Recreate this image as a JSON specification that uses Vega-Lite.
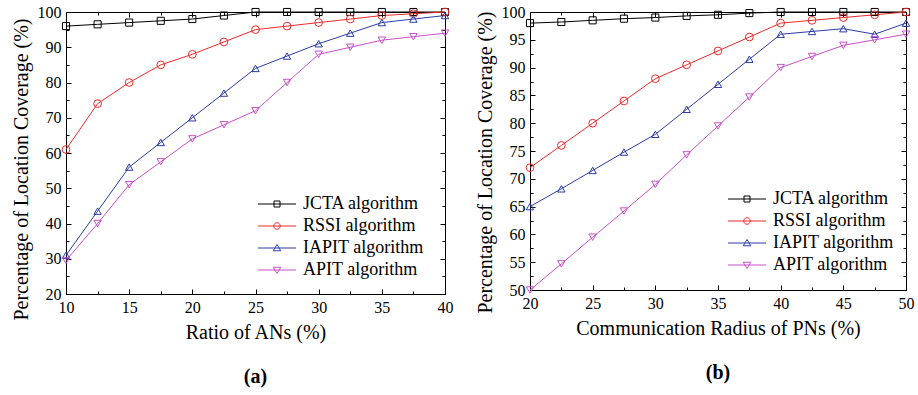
{
  "$schema": "https://vega.github.io/schema/vega-lite/v6.json",
  "padding": {"left": 10, "top": 3, "right": 5, "bottom": 5},
  "config": {
    "font": "Times New Roman",
    "view": {"stroke": "black", "strokeWidth": 1},
    "axis": {
      "grid": false, "domainColor": "black", "tickColor": "black",
      "labelColor": "black", "titleColor": "black", "labelFontSize": 16,
      "titleFontSize": 20, "titleFontWeight": "normal", "labelFont": "Times New Roman", "titleFont": "Times New Roman"
    },
    "legend": {
      "orient": "none", "labelFont": "Times New Roman", "labelFontSize": 18, "labelColor": "black",
      "symbolSize": 100, "symbolStrokeWidth": 1, "labelOffset": 17, "rowPadding": 4, "padding": 0, "title": null
    },
    "title": {"font": "Times New Roman", "fontSize": 20, "fontWeight": "bold", "color": "black"}
  },
  "datasets": {
    "a": [
      {"x": 10, "y": 96, "s": "JCTA algorithm"}, {"x": 12.5, "y": 96.5, "s": "JCTA algorithm"}, {"x": 15, "y": 97, "s": "JCTA algorithm"}, {"x": 17.5, "y": 97.5, "s": "JCTA algorithm"}, {"x": 20, "y": 98, "s": "JCTA algorithm"}, {"x": 22.5, "y": 99, "s": "JCTA algorithm"}, {"x": 25, "y": 100, "s": "JCTA algorithm"}, {"x": 27.5, "y": 100, "s": "JCTA algorithm"}, {"x": 30, "y": 100, "s": "JCTA algorithm"}, {"x": 32.5, "y": 100, "s": "JCTA algorithm"}, {"x": 35, "y": 100, "s": "JCTA algorithm"}, {"x": 37.5, "y": 100, "s": "JCTA algorithm"}, {"x": 40, "y": 100, "s": "JCTA algorithm"},
      {"x": 10, "y": 61, "s": "RSSI algorithm"}, {"x": 12.5, "y": 74, "s": "RSSI algorithm"}, {"x": 15, "y": 80, "s": "RSSI algorithm"}, {"x": 17.5, "y": 85, "s": "RSSI algorithm"}, {"x": 20, "y": 88, "s": "RSSI algorithm"}, {"x": 22.5, "y": 91.5, "s": "RSSI algorithm"}, {"x": 25, "y": 95, "s": "RSSI algorithm"}, {"x": 27.5, "y": 96, "s": "RSSI algorithm"}, {"x": 30, "y": 97, "s": "RSSI algorithm"}, {"x": 32.5, "y": 98, "s": "RSSI algorithm"}, {"x": 35, "y": 99, "s": "RSSI algorithm"}, {"x": 37.5, "y": 99.5, "s": "RSSI algorithm"}, {"x": 40, "y": 100, "s": "RSSI algorithm"},
      {"x": 10, "y": 31, "s": "IAPIT algorithm"}, {"x": 12.5, "y": 43.5, "s": "IAPIT algorithm"}, {"x": 15, "y": 56, "s": "IAPIT algorithm"}, {"x": 17.5, "y": 63, "s": "IAPIT algorithm"}, {"x": 20, "y": 70, "s": "IAPIT algorithm"}, {"x": 22.5, "y": 77, "s": "IAPIT algorithm"}, {"x": 25, "y": 84, "s": "IAPIT algorithm"}, {"x": 27.5, "y": 87.5, "s": "IAPIT algorithm"}, {"x": 30, "y": 91, "s": "IAPIT algorithm"}, {"x": 32.5, "y": 94, "s": "IAPIT algorithm"}, {"x": 35, "y": 97, "s": "IAPIT algorithm"}, {"x": 37.5, "y": 98, "s": "IAPIT algorithm"}, {"x": 40, "y": 99, "s": "IAPIT algorithm"},
      {"x": 10, "y": 29.5, "s": "APIT algorithm"}, {"x": 12.5, "y": 40, "s": "APIT algorithm"}, {"x": 15, "y": 51, "s": "APIT algorithm"}, {"x": 17.5, "y": 57.5, "s": "APIT algorithm"}, {"x": 20, "y": 64, "s": "APIT algorithm"}, {"x": 22.5, "y": 68, "s": "APIT algorithm"}, {"x": 25, "y": 72, "s": "APIT algorithm"}, {"x": 27.5, "y": 80, "s": "APIT algorithm"}, {"x": 30, "y": 88, "s": "APIT algorithm"}, {"x": 32.5, "y": 90, "s": "APIT algorithm"}, {"x": 35, "y": 92, "s": "APIT algorithm"}, {"x": 37.5, "y": 93, "s": "APIT algorithm"}, {"x": 40, "y": 94, "s": "APIT algorithm"}
    ],
    "b": [
      {"x": 20, "y": 98, "s": "JCTA algorithm"}, {"x": 22.5, "y": 98.2, "s": "JCTA algorithm"}, {"x": 25, "y": 98.5, "s": "JCTA algorithm"}, {"x": 27.5, "y": 98.8, "s": "JCTA algorithm"}, {"x": 30, "y": 99, "s": "JCTA algorithm"}, {"x": 32.5, "y": 99.3, "s": "JCTA algorithm"}, {"x": 35, "y": 99.5, "s": "JCTA algorithm"}, {"x": 37.5, "y": 99.8, "s": "JCTA algorithm"}, {"x": 40, "y": 100, "s": "JCTA algorithm"}, {"x": 42.5, "y": 100, "s": "JCTA algorithm"}, {"x": 45, "y": 100, "s": "JCTA algorithm"}, {"x": 47.5, "y": 100, "s": "JCTA algorithm"}, {"x": 50, "y": 100, "s": "JCTA algorithm"},
      {"x": 20, "y": 72, "s": "RSSI algorithm"}, {"x": 22.5, "y": 76, "s": "RSSI algorithm"}, {"x": 25, "y": 80, "s": "RSSI algorithm"}, {"x": 27.5, "y": 84, "s": "RSSI algorithm"}, {"x": 30, "y": 88, "s": "RSSI algorithm"}, {"x": 32.5, "y": 90.5, "s": "RSSI algorithm"}, {"x": 35, "y": 93, "s": "RSSI algorithm"}, {"x": 37.5, "y": 95.5, "s": "RSSI algorithm"}, {"x": 40, "y": 98, "s": "RSSI algorithm"}, {"x": 42.5, "y": 98.5, "s": "RSSI algorithm"}, {"x": 45, "y": 99, "s": "RSSI algorithm"}, {"x": 47.5, "y": 99.5, "s": "RSSI algorithm"}, {"x": 50, "y": 100, "s": "RSSI algorithm"},
      {"x": 20, "y": 65, "s": "IAPIT algorithm"}, {"x": 22.5, "y": 68.2, "s": "IAPIT algorithm"}, {"x": 25, "y": 71.5, "s": "IAPIT algorithm"}, {"x": 27.5, "y": 74.8, "s": "IAPIT algorithm"}, {"x": 30, "y": 78, "s": "IAPIT algorithm"}, {"x": 32.5, "y": 82.5, "s": "IAPIT algorithm"}, {"x": 35, "y": 87, "s": "IAPIT algorithm"}, {"x": 37.5, "y": 91.5, "s": "IAPIT algorithm"}, {"x": 40, "y": 96, "s": "IAPIT algorithm"}, {"x": 42.5, "y": 96.5, "s": "IAPIT algorithm"}, {"x": 45, "y": 97, "s": "IAPIT algorithm"}, {"x": 47.5, "y": 96, "s": "IAPIT algorithm"}, {"x": 50, "y": 98, "s": "IAPIT algorithm"},
      {"x": 20, "y": 50, "s": "APIT algorithm"}, {"x": 22.5, "y": 54.7, "s": "APIT algorithm"}, {"x": 25, "y": 59.5, "s": "APIT algorithm"}, {"x": 27.5, "y": 64.2, "s": "APIT algorithm"}, {"x": 30, "y": 69, "s": "APIT algorithm"}, {"x": 32.5, "y": 74.3, "s": "APIT algorithm"}, {"x": 35, "y": 79.5, "s": "APIT algorithm"}, {"x": 37.5, "y": 84.7, "s": "APIT algorithm"}, {"x": 40, "y": 90, "s": "APIT algorithm"}, {"x": 42.5, "y": 92, "s": "APIT algorithm"}, {"x": 45, "y": 94, "s": "APIT algorithm"}, {"x": 47.5, "y": 95, "s": "APIT algorithm"}, {"x": 50, "y": 96, "s": "APIT algorithm"}
    ]
  },
  "resolve": {"scale": {"color": "independent"}, "legend": {"color": "independent"}},
  "spacing": 20,
  "hconcat": [
    {
      "width": 379, "height": 282,
      "data": {"name": "a"},
      "title": {"text": "(a)", "orient": "bottom", "anchor": "middle", "offset": 25},
      "resolve": {"axis": {"x": "independent", "y": "independent"}},
      "encoding": {
        "color": {"field": "s", "type": "nominal",
          "scale": {"domain": ["JCTA algorithm", "RSSI algorithm", "IAPIT algorithm", "APIT algorithm"], "range": ["#000000", "#ee2a2a", "#2a3da8", "#c94fc9"]},
          "legend": {"legendX": 202, "legendY": 183,
            "encode": {"symbols": {"update": {"shape": {"signal": "datum.value === 'JCTA algorithm' ? 'M-3.8,0H3.8M-0.6,-0.6H0.6V0.6H-0.6Z' : datum.value === 'RSSI algorithm' ? 'M-3.8,0H3.8M-0.65,0A0.65,0.65 0 1,0 0.65,0A0.65,0.65 0 1,0 -0.65,0Z' : datum.value === 'IAPIT algorithm' ? 'M-3.8,0H3.8M0,-0.7L0.75,0.55H-0.75Z' : 'M-3.8,0H3.8M0,0.7L0.75,-0.55H-0.75Z'"}, "fill": {"value": "transparent"}}}}}}
      },
      "layer": [
        {
          "mark": {"type": "line", "strokeWidth": 1},
          "encoding": {
            "x": {"field": "x", "type": "quantitative", "scale": {"domain": [10, 40], "nice": false},
              "axis": {"orient": "bottom", "title": "Ratio of ANs (%)", "values": [10, 12.5, 15, 17.5, 20, 22.5, 25, 27.5, 30, 32.5, 35, 37.5, 40],
                "labelExpr": "datum.value % 5 === 0 ? datum.label : ''",
                "tickSize": {"condition": {"test": "datum.value % 5 === 0", "value": -5}, "value": -3}, "labelPadding": 10, "titlePadding": 7, "labelFlush": false}},
            "y": {"field": "y", "type": "quantitative", "scale": {"domain": [20, 100], "nice": false},
              "axis": {"orient": "left", "title": "Percentage of Location Coverage (%)", "titleY": 157, "values": [20, 25, 30, 35, 40, 45, 50, 55, 60, 65, 70, 75, 80, 85, 90, 95, 100],
                "labelExpr": "datum.value % 10 === 0 ? datum.label : ''",
                "tickSize": {"condition": {"test": "datum.value % 10 === 0", "value": -5}, "value": -3}, "labelPadding": 10, "titlePadding": 6, "labelFlush": false}}
          }
        },
        {
          "transform": [{"filter": "datum.s === 'JCTA algorithm'"}],
          "mark": {"type": "point", "shape": "square", "filled": false, "size": 50, "strokeWidth": 1, "opacity": 1},
          "encoding": {
            "x": {"field": "x", "type": "quantitative",
              "axis": {"orient": "top", "title": null, "labels": false, "values": [10, 12.5, 15, 17.5, 20, 22.5, 25, 27.5, 30, 32.5, 35, 37.5, 40],
                "tickSize": {"condition": {"test": "datum.value % 5 === 0", "value": -5}, "value": -3}}},
            "y": {"field": "y", "type": "quantitative",
              "axis": {"orient": "right", "title": null, "labels": false, "values": [20, 25, 30, 35, 40, 45, 50, 55, 60, 65, 70, 75, 80, 85, 90, 95, 100],
                "tickSize": {"condition": {"test": "datum.value % 10 === 0", "value": -5}, "value": -3}}}
          }
        },
        {
          "transform": [{"filter": "datum.s === 'RSSI algorithm'"}],
          "mark": {"type": "point", "shape": "circle", "filled": false, "size": 60, "strokeWidth": 1, "opacity": 1},
          "encoding": {"x": {"field": "x", "type": "quantitative", "axis": null}, "y": {"field": "y", "type": "quantitative", "axis": null}}
        },
        {
          "transform": [{"filter": "datum.s === 'IAPIT algorithm'"}],
          "mark": {"type": "point", "shape": "triangle-up", "filled": false, "size": 55, "strokeWidth": 1, "opacity": 1},
          "encoding": {"x": {"field": "x", "type": "quantitative", "axis": null}, "y": {"field": "y", "type": "quantitative", "axis": null}}
        },
        {
          "transform": [{"filter": "datum.s === 'APIT algorithm'"}],
          "mark": {"type": "point", "shape": "triangle-down", "filled": false, "size": 55, "strokeWidth": 1, "opacity": 1},
          "encoding": {"x": {"field": "x", "type": "quantitative", "axis": null}, "y": {"field": "y", "type": "quantitative", "axis": null}}
        }
      ]
    },
    {
      "width": 376, "height": 278,
      "data": {"name": "b"},
      "title": {"text": "(b)", "orient": "bottom", "anchor": "middle", "offset": 25},
      "resolve": {"axis": {"x": "independent", "y": "independent"}},
      "encoding": {
        "color": {"field": "s", "type": "nominal",
          "scale": {"domain": ["JCTA algorithm", "RSSI algorithm", "IAPIT algorithm", "APIT algorithm"], "range": ["#000000", "#ee2a2a", "#2a3da8", "#c94fc9"]},
          "legend": {"legendX": 208, "legendY": 178,
            "encode": {"symbols": {"update": {"shape": {"signal": "datum.value === 'JCTA algorithm' ? 'M-3.8,0H3.8M-0.6,-0.6H0.6V0.6H-0.6Z' : datum.value === 'RSSI algorithm' ? 'M-3.8,0H3.8M-0.65,0A0.65,0.65 0 1,0 0.65,0A0.65,0.65 0 1,0 -0.65,0Z' : datum.value === 'IAPIT algorithm' ? 'M-3.8,0H3.8M0,-0.7L0.75,0.55H-0.75Z' : 'M-3.8,0H3.8M0,0.7L0.75,-0.55H-0.75Z'"}, "fill": {"value": "transparent"}}}}}}
      },
      "layer": [
        {
          "mark": {"type": "line", "strokeWidth": 1},
          "encoding": {
            "x": {"field": "x", "type": "quantitative", "scale": {"domain": [20, 50], "nice": false},
              "axis": {"orient": "bottom", "title": "Communication Radius of PNs (%)", "values": [20, 22.5, 25, 27.5, 30, 32.5, 35, 37.5, 40, 42.5, 45, 47.5, 50],
                "labelExpr": "datum.value % 5 === 0 ? datum.label : ''",
                "tickSize": {"condition": {"test": "datum.value % 5 === 0", "value": -5}, "value": -3}, "labelPadding": 10, "titlePadding": 7, "labelFlush": false}},
            "y": {"field": "y", "type": "quantitative", "scale": {"domain": [50, 100], "nice": false},
              "axis": {"orient": "left", "title": "Percentage of Location Coverage (%)", "titleY": 150, "values": [50, 52.5, 55, 57.5, 60, 62.5, 65, 67.5, 70, 72.5, 75, 77.5, 80, 82.5, 85, 87.5, 90, 92.5, 95, 97.5, 100],
                "labelExpr": "datum.value % 5 === 0 ? datum.label : ''",
                "tickSize": {"condition": {"test": "datum.value % 5 === 0", "value": -5}, "value": -3}, "labelPadding": 10, "titlePadding": 6, "labelFlush": false}}
          }
        },
        {
          "transform": [{"filter": "datum.s === 'JCTA algorithm'"}],
          "mark": {"type": "point", "shape": "square", "filled": false, "size": 50, "strokeWidth": 1, "opacity": 1},
          "encoding": {
            "x": {"field": "x", "type": "quantitative",
              "axis": {"orient": "top", "title": null, "labels": false, "values": [20, 22.5, 25, 27.5, 30, 32.5, 35, 37.5, 40, 42.5, 45, 47.5, 50],
                "tickSize": {"condition": {"test": "datum.value % 5 === 0", "value": -5}, "value": -3}}},
            "y": {"field": "y", "type": "quantitative",
              "axis": {"orient": "right", "title": null, "labels": false, "values": [50, 52.5, 55, 57.5, 60, 62.5, 65, 67.5, 70, 72.5, 75, 77.5, 80, 82.5, 85, 87.5, 90, 92.5, 95, 97.5, 100],
                "tickSize": {"condition": {"test": "datum.value % 5 === 0", "value": -5}, "value": -3}}}
          }
        },
        {
          "transform": [{"filter": "datum.s === 'RSSI algorithm'"}],
          "mark": {"type": "point", "shape": "circle", "filled": false, "size": 60, "strokeWidth": 1, "opacity": 1},
          "encoding": {"x": {"field": "x", "type": "quantitative", "axis": null}, "y": {"field": "y", "type": "quantitative", "axis": null}}
        },
        {
          "transform": [{"filter": "datum.s === 'IAPIT algorithm'"}],
          "mark": {"type": "point", "shape": "triangle-up", "filled": false, "size": 55, "strokeWidth": 1, "opacity": 1},
          "encoding": {"x": {"field": "x", "type": "quantitative", "axis": null}, "y": {"field": "y", "type": "quantitative", "axis": null}}
        },
        {
          "transform": [{"filter": "datum.s === 'APIT algorithm'"}],
          "mark": {"type": "point", "shape": "triangle-down", "filled": false, "size": 55, "strokeWidth": 1, "opacity": 1},
          "encoding": {"x": {"field": "x", "type": "quantitative", "axis": null}, "y": {"field": "y", "type": "quantitative", "axis": null}}
        }
      ]
    }
  ]
}
